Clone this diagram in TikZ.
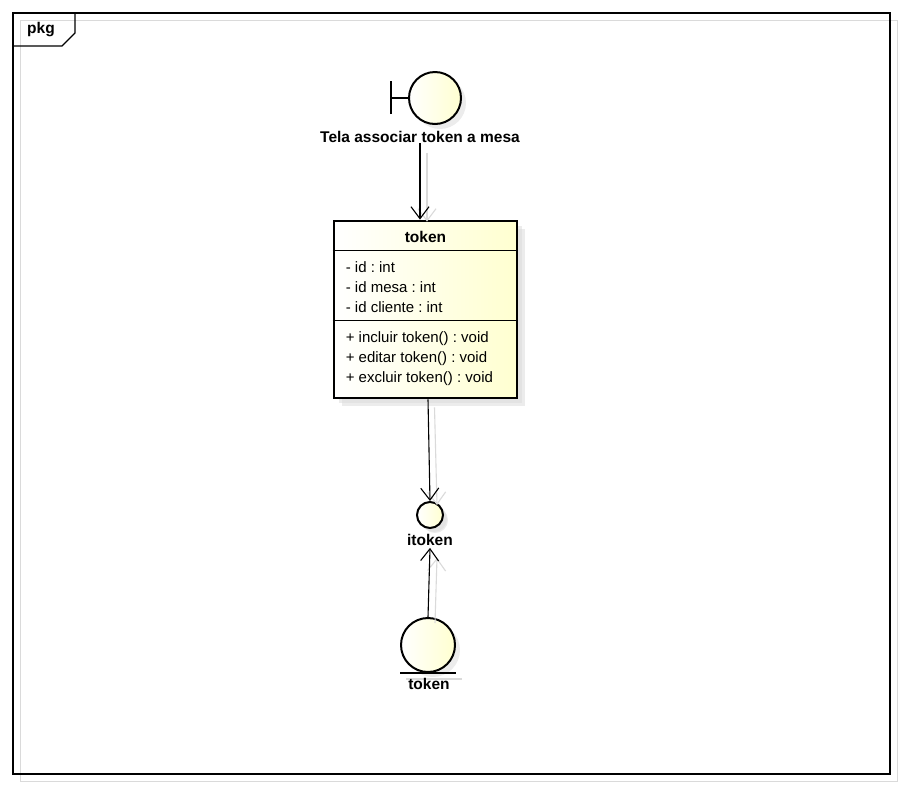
\documentclass[tikz,border=0pt]{standalone}
\usepackage{fontspec}
\setmainfont{Liberation Sans}
\usetikzlibrary{arrows.meta, shadows, calc}

\definecolor{umlyellow}{RGB}{255,255,208}
\definecolor{umlshadow}{RGB}{218,218,218}
\frenchspacing

\begin{document}
\begin{tikzpicture}[x = 1pt, y = -1pt, > = {Straight Barb[length = 12pt, width = 18pt]},
	element/.style = {draw, line width = 2pt, left color = white, right color = umlyellow,
		drop shadow = {shadow xshift = 5pt, shadow yshift = -5pt, fill = umlshadow}},
	label/.style = {font = \fontsize{15.5}{18}\selectfont\bfseries, inner sep = 0pt},
	member/.style = {font = \fontsize{15}{18}\selectfont, inner sep = 0pt, anchor = west},
	link/.style = {->, line width = 1.1pt},
	linkshade/.style = {->, line width = 1.1pt, umlshadow}]

	\useasboundingbox (0, 0) rectangle (904, 788);

	% Package frame + tab

	\draw [umlshadow, line width = 1pt] (20, 20) rectangle (897, 781);
	\draw [line width = 1.1pt] (13, 13) rectangle (890, 774);
	\draw [line width = 1.1pt] (13, 46) -- (62, 46) -- (75, 33) -- (75, 13);
	\node [label] (pkg) at (41, 30) {pkg};

	% Boundary

	\node [element, circle, minimum size = 52pt] (bnd) at (435, 98) {};
	\coordinate (bar) at (391, 98);
	\draw [line width = 2pt] (bar) -- (bnd.west);
	\draw [line width = 2pt] ([yshift = -16]bar) -- ([yshift = 17]bar);
	\node [label] (bndlabel) at (420, 137) {Tela associar token a mesa};

	% Class token

	\node [element, rectangle, line width = 2.8pt, minimum width = 183pt, minimum height = 177pt,
		drop shadow = {shadow xshift = 8pt, shadow yshift = -8pt, fill = umlshadow}] (cls) at (425.5, 309.5) {};
	\draw [line width = 1pt] ($(cls.north west) + (0, 31)$) -- ($(cls.north east) + (0, 31)$);
	\draw [line width = 1pt] ($(cls.north west) + (0, 101)$) -- ($(cls.north east) + (0, 101)$);
	\node [label] (clsname) at ($(cls.north) + (0, 17)$) {token};
	\node [member] (attr1) at ($(cls.north west) + (13, 48)$) {- id : int};
	\node [member] (attr2) at ($(cls.north west) + (13, 68)$) {- id mesa : int};
	\node [member] (attr3) at ($(cls.north west) + (13, 88)$) {- id cliente : int};
	\node [member] (op1) at ($(cls.north west) + (13, 119)$) {+ incluir token() : void};
	\node [member] (op2) at ($(cls.north west) + (13, 139)$) {+ editar token() : void};
	\node [member] (op3) at ($(cls.north west) + (13, 159)$) {+ excluir token() : void};

	% Interface itoken

	\node [element, circle, minimum size = 26pt, drop shadow = {shadow xshift = 4pt, shadow yshift = -4pt, fill = umlshadow}] (itf) at (430, 515) {};
	\node [label] (itflabel) at (430, 540) {itoken};

	% Entity token

	\node [element, circle, minimum size = 54pt] (ent) at (428, 645) {};
	\draw [umlshadow, line width = 2pt] ($(ent.south) + (-22, 6)$) -- ($(ent.south) + (34, 6)$);
	\draw [line width = 2pt] ($(ent.south) + (-28, 0)$) -- ($(ent.south) + (28, 0)$);
	\node [label] (entlabel) at (429, 684) {token};

	% Dependencies

	\draw [linkshade] ([xshift = 7, yshift = -10]bndlabel.south) -- ([xshift = 7, yshift = -2]bndlabel.south |- cls.north);
	\draw [link] (bndlabel.south) -- (bndlabel.south |- cls.north);

	\draw [linkshade] ([xshift = 9, yshift = -8]cls.south) -- ([xshift = 7, yshift = -4]itf.north);
	\draw [link] ([xshift = 2.5]cls.south) -- (itf.north);

	\draw [linkshade] ([xshift = 7, yshift = -6]ent.north) -- ([xshift = 7, yshift = -12]itflabel.south);
	\draw [link] (ent.north) -- ([yshift = -2]itflabel.south);

\end{tikzpicture}
\end{document}
